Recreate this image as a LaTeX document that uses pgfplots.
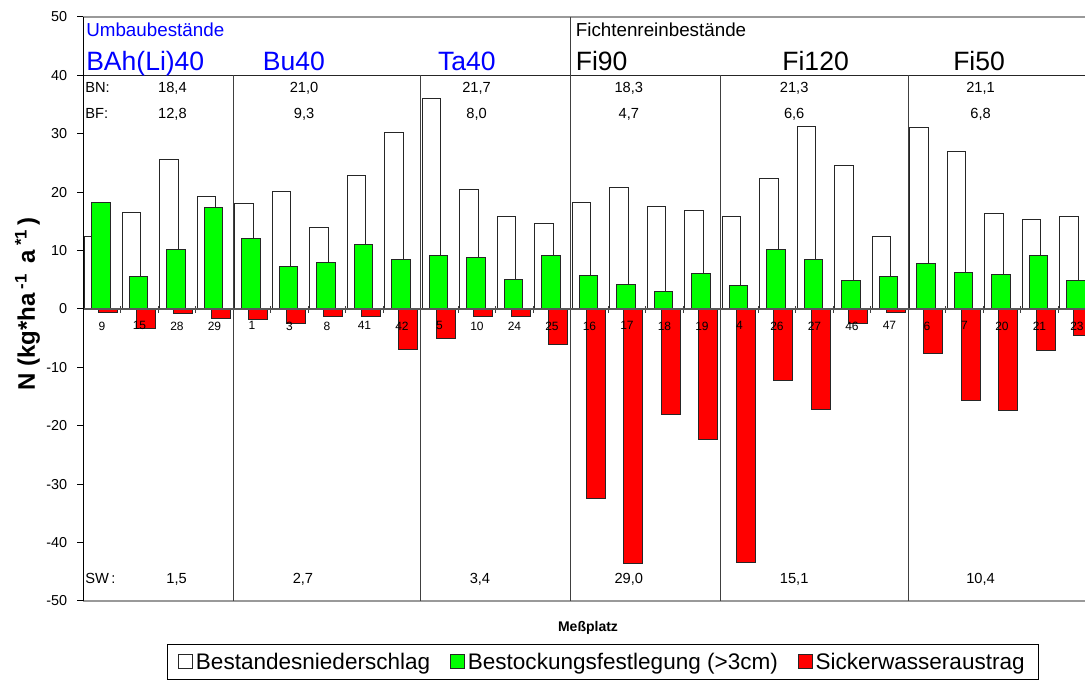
\documentclass[border=0pt]{standalone}
\usepackage{fontspec}
\setmainfont{Liberation Sans}
\usepackage{pgfplots}
\pgfplotsset{compat=1.18}
\definecolor{xgreen}{RGB}{0,255,0}
\definecolor{xred}{RGB}{255,0,0}
\definecolor{xblue}{RGB}{0,0,255}
\newcommand{\fs}[1]{\fontsize{#1}{#1}\selectfont}
\begin{document}
\begin{tikzpicture}
\useasboundingbox (0,0) rectangle (813.75pt,513pt);
\begin{axis}[
  at={(62.4pt,62.25pt)}, anchor=south west,
  scale only axis, width=759.375pt, height=438pt,
  xmin=-0.5, xmax=26.5, ymin=-50, ymax=50,
  clip=false,
  axis x line*=middle, axis y line*=left,
  axis on top,
  x axis line style={black!65, line width=0.9pt},
  y axis line style={black, line width=0.9pt},
  xtick={0,...,26},
  xticklabels={9,15,28,29,1,3,8,41,42,5,10,24,25,16,17,18,19,4,26,27,46,47,6,7,20,21,23},
  xtick style={draw=none},
  xticklabel style={font=\fs{9}, yshift=-6pt},
  ytick={-50,-40,...,50},
  yticklabels={-50,-40,-30,-20,-10,0,10,20,30,40,50},
  ytick align=outside, major tick length=4.5pt,
  ytick style={black, line width=0.75pt},
  yticklabel style={font=\fs{10.8}, xshift=-4pt},
  legend columns=3,
  legend style={at={(0.5132,-0.1045)}, anchor=center, draw=black, line width=0.75pt,
    font=\fs{16.9}, inner xsep=8pt, inner ysep=4pt,
    /tikz/every even column/.append style={column sep=13pt}},
  legend image code/.code={\draw[#1, line width=0.75pt] (0pt,-5pt) rectangle (10.5pt,5.5pt);},
]
% Bestandesniederschlag
\addplot[ybar, bar width=0.5, bar shift=-0.215, fill=white, draw=black!85, line width=0.75pt] coordinates {
(0,12.45) (1,16.55) (2,25.6) (3,19.2) (4,18.0) (5,20.2) (6,14.0) (7,22.9) (8,30.25)
(9,36.1) (10,20.4) (11,15.8) (12,14.67) (13,18.27) (14,20.77) (15,17.5) (16,16.8)
(17,15.87) (18,22.3) (19,31.28) (20,24.6) (21,12.4) (22,31.16) (23,26.9) (24,16.4) (25,15.3) (26,15.87)};
\addlegendentry{Bestandesniederschlag}
% Bestockungsfestlegung
\addplot[ybar, bar width=0.5, bar shift=-0.025, fill=xgreen, draw=black!85, line width=0.75pt] coordinates {
(0,18.2) (1,5.6) (2,10.15) (3,17.4) (4,12.0) (5,7.36) (6,7.93) (7,10.96) (8,8.45)
(9,9.15) (10,8.8) (11,5.1) (12,9.1) (13,5.77) (14,4.16) (15,3.08) (16,6.0)
(17,4.0) (18,10.15) (19,8.5) (20,4.8) (21,5.6) (22,7.8) (23,6.2) (24,5.9) (25,9.08) (26,4.9)};
\addlegendentry{Bestockungsfestlegung (>3cm)}
% Sickerwasseraustrag
\addplot[ybar, bar width=0.5, bar shift=0.165, fill=xred, draw=black!85, line width=0.75pt] coordinates {
(0,-0.57) (1,-3.3) (2,-0.8) (3,-1.6) (4,-1.75) (5,-2.45) (6,-1.31) (7,-1.26) (8,-6.96)
(9,-5.0) (10,-1.25) (11,-1.25) (12,-6.1) (13,-32.4) (14,-43.5) (15,-18.0) (16,-22.4)
(17,-43.4) (18,-12.16) (19,-17.2) (20,-2.5) (21,-0.57) (22,-7.65) (23,-15.75) (24,-17.4) (25,-7.13) (26,-4.57)};
\addlegendentry{Sickerwasseraustrag}
% frame lines
\draw[black!40, line width=1.3pt] (axis cs:-0.5,50) -- (axis cs:26.5,50);
\draw[black!40, line width=1.3pt] (axis cs:-0.5,-50) -- (axis cs:26.5,-50);
\draw[black!85, line width=0.9pt] (axis cs:-0.5,40) -- (axis cs:26.5,40);
\draw[black!75, line width=0.9pt] (axis cs:3.5,-50) -- (axis cs:3.5,40);
\draw[black!75, line width=0.9pt] (axis cs:8.5,-50) -- (axis cs:8.5,40);
\draw[black!75, line width=0.9pt] (axis cs:12.5,-50) -- (axis cs:12.5,50);
\draw[black!75, line width=0.9pt] (axis cs:16.5,-50) -- (axis cs:16.5,40);
\draw[black!75, line width=0.9pt] (axis cs:21.5,-50) -- (axis cs:21.5,40);
\pgfplotsinvokeforeach{-0.5,0.5,...,26.5}{
  \draw[black!75, line width=0.75pt] ([yshift=-3pt]axis cs:#1,0) -- ([yshift=2.5pt]axis cs:#1,0);
}
% group titles
\node[anchor=base west, inner sep=0, text=xblue, font=\fs{14.1}] at (axis cs:-0.425,46.6) {Umbaubestände};
\node[anchor=base west, inner sep=0, text=xblue, font=\fs{19.9}] at (axis cs:-0.425,40.9) {BAh(Li)40};
\node[anchor=base, inner sep=0, text=xblue, font=\fs{19.9}] at (axis cs:5.12,40.9) {Bu40};
\node[anchor=base, inner sep=0, text=xblue, font=\fs{19.9}] at (axis cs:9.73,40.9) {Ta40};
\node[anchor=base west, inner sep=0, font=\fs{14.1}] at (axis cs:12.63,46.6) {Fichtenreinbestände};
\node[anchor=base west, inner sep=0, font=\fs{19.9}] at (axis cs:12.63,40.9) {Fi90};
\node[anchor=base, inner sep=0, font=\fs{19.9}] at (axis cs:19.03,40.9) {Fi120};
\node[anchor=base, inner sep=0, font=\fs{19.9}] at (axis cs:23.39,40.9) {Fi50};
% BN / BF / SW rows
\node[anchor=base west, inner sep=0, font=\fs{11}] at (axis cs:-0.45,37.0) {BN:};
\node[anchor=base west, inner sep=0, font=\fs{11}] at (axis cs:-0.45,32.7) {BF:};
\node[anchor=base west, inner sep=0, font=\fs{11}] at (axis cs:-0.45,-46.97) {SW\,:};
\node[anchor=base, inner sep=0, font=\fs{11}] at (axis cs:1.88,37.0) {18,4};
\node[anchor=base, inner sep=0, font=\fs{11}] at (axis cs:5.39,37.0) {21,0};
\node[anchor=base, inner sep=0, font=\fs{11}] at (axis cs:9.99,37.0) {21,7};
\node[anchor=base, inner sep=0, font=\fs{11}] at (axis cs:14.05,37.0) {18,3};
\node[anchor=base, inner sep=0, font=\fs{11}] at (axis cs:18.46,37.0) {21,3};
\node[anchor=base, inner sep=0, font=\fs{11}] at (axis cs:23.43,37.0) {21,1};
\node[anchor=base, inner sep=0, font=\fs{11}] at (axis cs:1.88,32.7) {12,8};
\node[anchor=base, inner sep=0, font=\fs{11}] at (axis cs:5.39,32.7) {9,3};
\node[anchor=base, inner sep=0, font=\fs{11}] at (axis cs:9.99,32.7) {8,0};
\node[anchor=base, inner sep=0, font=\fs{11}] at (axis cs:14.05,32.7) {4,7};
\node[anchor=base, inner sep=0, font=\fs{11}] at (axis cs:18.46,32.7) {6,6};
\node[anchor=base, inner sep=0, font=\fs{11}] at (axis cs:23.43,32.7) {6,8};
\node[anchor=base, inner sep=0, font=\fs{11}] at (axis cs:1.99,-46.97) {1,5};
\node[anchor=base, inner sep=0, font=\fs{11}] at (axis cs:5.36,-46.97) {2,7};
\node[anchor=base, inner sep=0, font=\fs{11}] at (axis cs:10.08,-46.97) {3,4};
\node[anchor=base, inner sep=0, font=\fs{11}] at (axis cs:14.05,-46.97) {29,0};
\node[anchor=base, inner sep=0, font=\fs{11}] at (axis cs:18.46,-46.97) {15,1};
\node[anchor=base, inner sep=0, font=\fs{11}] at (axis cs:23.43,-46.97) {10,4};
\end{axis}
\node[rotate=90, font=\bfseries\fs{18}] at (20.6pt,285pt) {N (kg*ha\,\textsuperscript{-1}\ \,a\,\textsuperscript{*1}\,)};
\node[font=\bfseries\fs{10.5}] at (441pt,42pt) {Meßplatz};
\end{tikzpicture}
\end{document}
